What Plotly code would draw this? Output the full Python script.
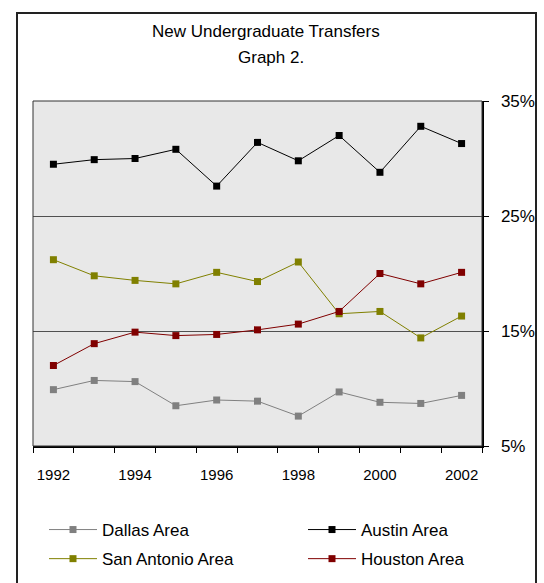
import plotly.graph_objects as go

years = [1992, 1993, 1994, 1995, 1996, 1997, 1998, 1999, 2000, 2001, 2002]
dallas = [9.9, 10.7, 10.6, 8.5, 9.0, 8.9, 7.6, 9.7, 8.8, 8.7, 9.4]
austin = [29.5, 29.9, 30.0, 30.8, 27.6, 31.4, 29.8, 32.0, 28.8, 32.8, 31.3]
san_antonio = [21.2, 19.8, 19.4, 19.1, 20.1, 19.3, 21.0, 16.5, 16.7, 14.4, 16.3]
houston = [12.0, 13.9, 14.9, 14.6, 14.7, 15.1, 15.6, 16.7, 20.0, 19.1, 20.1]

x_tick_vals = [1992, 1994, 1996, 1998, 2000, 2002]
x_tick_text = ["1992", "1994", "1996", "1998", "2000", "2002"]
y_tick_vals = [5, 15, 25, 35]
y_tick_text = ["5%", "15%", "25%", "35%"]

series = [
    ("Dallas Area", dallas, "#808080", "legend"),
    ("Austin Area", austin, "#000000", "legend2"),
    ("San Antonio Area", san_antonio, "#808000", "legend"),
    ("Houston Area", houston, "#800000", "legend2"),
]

fig = go.Figure()
for name, vals, col, leg in series:
    fig.add_trace(go.Scatter(
        x=years, y=vals, name=name, mode="lines+markers",
        line=dict(color=col, width=1),
        marker=dict(symbol="square", size=7, color=col),
        legend=leg, legendgroup=name,
    ))

L, R, T, B = 33, 482, 101, 446
W, H = 544, 583
pw, ph = R - L, B - T

def px(xp):
    return (xp - L) / pw

def py(yp):
    return (B - yp) / ph

def cx(xp):
    return xp / W

def cy(yp):
    return (H - yp) / H

font = "Liberation Sans, Arial, sans-serif"
leg_common = dict(
    orientation="v", xref="container", yref="container",
    xanchor="left", yanchor="top", itemwidth=48,
    font=dict(size=17), bgcolor="rgba(0,0,0,0)", tracegroupgap=4,
)

fig.update_layout(
    width=W, height=H,
    margin=dict(l=L, r=W - R, t=T, b=H - B, pad=0, autoexpand=False),
    paper_bgcolor="white",
    plot_bgcolor="#e8e8e8",
    font=dict(family=font, size=15, color="#000000"),
    showlegend=True,
    legend=dict(x=cx(44), y=cy(512), **leg_common),
    legend2=dict(x=cx(303), y=cy(512), **leg_common),
    xaxis=dict(
        range=[1991.5, 2002.5], tickmode="array",
        tickvals=x_tick_vals, ticktext=x_tick_text,
        ticks="", showgrid=False, zeroline=False,
        showline=True, linecolor="#000000", linewidth=2,
        ticklabelstandoff=14,
        minor=dict(tickvals=[y + 0.5 for y in [1991] + years], ticks="outside",
                   ticklen=5, tickcolor="#000000", tickwidth=1, showgrid=False),
        tickfont=dict(size=15),
    ),
    yaxis=dict(
        range=[5, 35], side="right", tickmode="array",
        tickvals=y_tick_vals, ticktext=["\u2002" + t for t in y_tick_text],
        ticks="outside", ticklen=5, tickcolor="#000000",
        showgrid=True, gridcolor="#505050", gridwidth=1,
        zeroline=False, showline=True, linecolor="#000000", linewidth=2,
        tickfont=dict(size=17),
    ),
    shapes=[
        dict(type="rect", xref="paper", yref="paper", x0=0, x1=1, y0=0, y1=1,
             line=dict(color="#333333", width=1), layer="above"),
        dict(type="rect", xref="paper", yref="paper",
             x0=px(17), x1=px(536), y0=py(600), y1=py(13),
             line=dict(color="#222222", width=2), layer="below"),
    ],
    annotations=[
        dict(text="New Undergraduate Transfers", xref="paper", yref="paper",
             x=px(266), y=py(31), showarrow=False, font=dict(size=17),
             xanchor="center", yanchor="middle"),
        dict(text="Graph 2.", xref="paper", yref="paper",
             x=px(271), y=py(58), showarrow=False, font=dict(size=17),
             xanchor="center", yanchor="middle"),
    ],
)

fig.write_html("out.html", config={"displayModeBar": False},
               post_script="document.body.style.margin='0px';")
